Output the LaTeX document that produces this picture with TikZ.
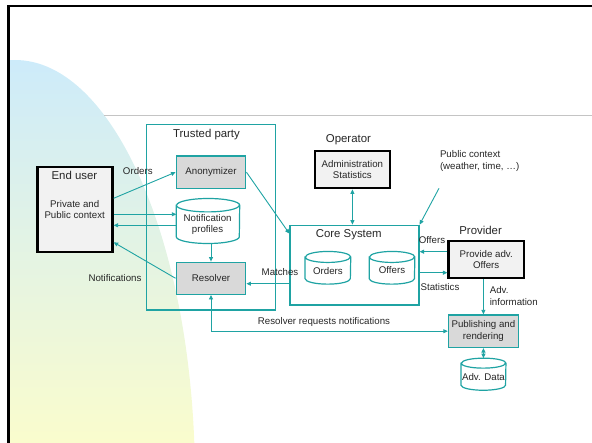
\documentclass[tikz,border=0pt]{standalone}
\usepackage{fontspec}
\setmainfont{Liberation Sans}
\usetikzlibrary{arrows.meta}

\definecolor{tealc}{HTML}{1FA3A3}
\definecolor{boxgray}{HTML}{D9D9D9}
\definecolor{boxlight}{HTML}{F2F2F2}
\definecolor{txt}{HTML}{262626}
\definecolor{skyc}{HTML}{CDEBFA}
\definecolor{sandc}{HTML}{FAFCCD}
\definecolor{rulegray}{HTML}{C4C4C4}

\tikzset{
  small/.style={font=\fontsize{9.7}{11.5}\selectfont, text=txt, align=center},
  big/.style={font=\fontsize{11.4}{13}\selectfont, text=txt, inner sep=0pt},
  procbox/.style={draw=tealc, line width=1.4pt, fill=boxgray, small, inner sep=0pt},
  actorbox/.style={draw=black, line width=2.2pt, fill=boxlight, small, inner sep=0pt},
  groupbox/.style={draw=tealc, line width=1.2pt, inner sep=0pt},
  dbnode/.style={inner sep=0pt},
  lbl/.style={small, inner sep=0pt},
  tip/.tip={Triangle[length=4.5pt,width=4pt]},
  conn/.style={draw=tealc, line width=0.9pt, -tip},
  biconn/.style={draw=tealc, line width=0.9pt, tip-tip},
  dbline/.style={draw=tealc, line width=1.2pt},
}

% outline of a database drum around node #1; #2 = half width, #3 = lid radius
\newcommand\drumoutline[3]{%
  \path[dbline] ([yshift=-#3]#1.north west) -- ([yshift=#3]#1.south west)
    arc[start angle=180,end angle=360,x radius=#2,y radius=#3]
    -- ([yshift=-#3]#1.north east)
    arc[start angle=0,end angle=180,x radius=#2,y radius=#3] -- cycle
    ([yshift=-#3]#1.north west)
    arc[start angle=180,end angle=360,x radius=#2,y radius=#3];}

\begin{document}
\begin{tikzpicture}[x=1pt,y=-1pt]
\useasboundingbox (0,0) rectangle (592,443);

% slide background: shaded arc and rules
\begin{scope}
  \clip (10,0) rectangle (592,443);
  \clip (15,480) ellipse[x radius=180pt, y radius=420pt];
  \shade[top color=skyc, bottom color=sandc] (10,60) rectangle (220,443);
\end{scope}
\draw[rulegray, line width=1pt] (104,115.7) -- (592,115.7);
\draw[black, line width=2.5pt] (8.7,450) -- (8.7,6.2) -- (600,6.2);

% containers
\node[groupbox, minimum width=129.1pt, minimum height=185.7pt] (tp) at (211,217.2) {};
\node[big] (tpt) at (206.5,134.3) {Trusted party};
\node[groupbox, minimum width=129pt, minimum height=79.7pt] (core) at (354.5,265.1) {};
\node[big] (coret) at (348.8,235) {Core System};

% end user
\node[actorbox, minimum width=75.1pt, minimum height=85.3pt] (eu) at (75,209.3) {};
\node[big] (eut) at (74.4,175) {End user};
\node[small] (euc) at (74.7,209.5) {Private and\\Public context};

% trusted party parts
\node[procbox, minimum width=69.5pt, minimum height=32.3pt] (anon) at (211,172.2) {Anonymizer};
\node[dbnode, minimum width=63pt, minimum height=44.6pt] (np) at (208,221) {};
\drumoutline{np}{31.5pt}{6.7pt}
\node[small] (npt) at (207.6,224.7) {Notification\\profiles};
\node[procbox, minimum width=69.5pt, minimum height=32pt] (res) at (211,278.3) {Resolver};

% operator
\node[big] (opt) at (348.4,140) {Operator};
\node[actorbox, minimum width=75.2pt, minimum height=37.6pt] (adm) at (352.4,169.5) {Administration\\Statistics};

% core system stores
\node[dbnode, minimum width=45.3pt, minimum height=32.3pt] (ord) at (327.9,267.8) {};
\drumoutline{ord}{22.65pt}{5.5pt}
\node[small] (ordt) at (327.9,270.7) {Orders};
\node[dbnode, minimum width=45.3pt, minimum height=32.3pt] (off) at (392,267.8) {};
\drumoutline{off}{22.65pt}{5.5pt}
\node[small] (offt) at (392,270) {Offers};

% provider side
\node[big] (provt) at (480.6,230) {Provider};
\node[actorbox, minimum width=75.5pt, minimum height=37.6pt] (prov) at (486.2,259.5) {Provide adv.\\Offers};
\node[procbox, minimum width=69.8pt, minimum height=32.3pt] (pub) at (483.4,331.2) {Publishing and\\rendering};
\node[dbnode, minimum width=44.5pt, minimum height=31.7pt] (adv) at (483.5,374.2) {};
\drumoutline{adv}{22.25pt}{5pt}
\node[small] (advt) at (483.5,376.7) {Adv. Data};

% public context source
\node[lbl, anchor=west, align=left] (pc) at (439.8,161.2) {Public context\\(weather, time, …)};
\coordinate (pcend) at (439,188.3);

% connectors
\coordinate (eu1) at ([yshift=-5pt]eu.east);
\coordinate (np1) at ([yshift=-4.3pt]np.west);
\coordinate (eu2) at ([yshift=-33pt]eu.east);
\coordinate (core1) at ([yshift=-18.6pt]core.west);
\coordinate (prov1) at ([yshift=7.8pt]prov.west);
\coordinate (core2) at ([yshift=-7.6pt]core.east);

\draw[conn] ([yshift=11pt]eu.east) -- (anon.west);
\draw[conn] (eu1) -- (eu1 -| np.west);
\draw[conn] (np1) -- (np1 -| eu.east);
\draw[conn] (res.north |- np.south) -- (res.north);
\draw[conn] (res.west) -- (eu2);
\draw[conn] (anon.east) -- ([yshift=-9pt]core.north west);
\draw[biconn] (adm.south) -- (adm.south |- core.north);
\draw[conn] (pcend) -- (core.north east);
\draw[conn] (core1) -- (core1 -| res.east);
\draw[conn] (prov1) -- (prov1 -| core.east);
\draw[conn] (core2) -- (core2 -| prov.west);
\draw[conn] (prov.south -| pub.north) -- (pub.north);
\draw[biconn] (pub.south) -- (adv.north);
\draw[biconn] (res.south) |- (pub.west);

% connector labels
\node[lbl] (lorders) at (137.8,170.7) {Orders};
\node[lbl] (lnotif) at (115,277.7) {Notifications};
\node[lbl] (lmatch) at (280,271.7) {Matches};
\node[lbl] (loffers) at (432,240.3) {Offers};
\node[lbl] (lstats) at (440,287.3) {Statistics};
\node[lbl, anchor=west, align=left] (ladv) at (489.6,296.2) {Adv.\\information};
\node[lbl] (lreq) at (324,321.7) {Resolver requests notifications};
\end{tikzpicture}
\end{document}
